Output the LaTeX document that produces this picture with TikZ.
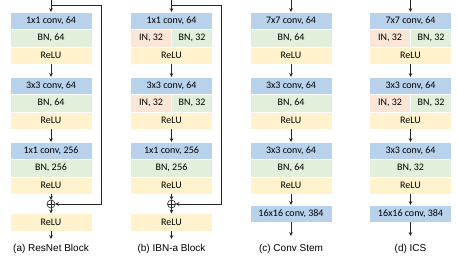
\documentclass[tikz,border=0pt]{standalone}
\usepackage{fontspec}
\setmainfont{Liberation Sans}
\newfontfamily\carlito{Carlito}
\usetikzlibrary{arrows.meta}
\definecolor{convblue}{HTML}{B8D2EC}
\definecolor{bngreen}{HTML}{E2EFDA}
\definecolor{reluyellow}{HTML}{FFF2CC}
\definecolor{inpink}{HTML}{FBE5D6}
\definecolor{linegray}{HTML}{262626}
\tikzset{
  cell/.style={draw=white, line width=0.3pt, outer sep=0pt, minimum height=17.33pt, inner sep=0pt,
    font=\carlito\fontsize{10}{12}\selectfont, anchor=north},
  conv/.style={cell, fill=convblue, minimum width=82pt},
  bn/.style={cell, fill=bngreen, minimum width=82pt},
  relu/.style={cell, fill=reluyellow, minimum width=82pt},
  inhalf/.style={cell, fill=inpink, minimum width=41pt},
  bnhalf/.style={cell, fill=bngreen, minimum width=41pt},
  arr/.style={-{Stealth[length=3.8pt,width=3.6pt]}, line width=0.9pt, draw=linegray},
  plus/.style={circle, draw=linegray, line width=0.6pt, fill=white, minimum size=8pt, inner sep=0pt, outer sep=0pt,
    path picture={\draw[linegray, line width=0.6pt] (path picture bounding box.north) -- (path picture bounding box.south)
      (path picture bounding box.west) -- (path picture bounding box.east);}},
  caption/.style={font=\fontsize{10}{12}\selectfont, inner sep=0pt},
}
\begin{document}
\begin{tikzpicture}[x=1pt,y=-1pt]
\useasboundingbox (0,0) rectangle (457,260);

% ---------- (a) ResNet Block ----------
\node[conv] (a1c) at (51,12) {1x1 conv, 64};
\node[bn]   (a1b) at (a1c.south) {BN, 64};
\node[relu] (a1r) at (a1b.south) {ReLU};
\node[conv] (a2c) at (51,77) {3x3 conv, 64};
\node[bn]   (a2b) at (a2c.south) {BN, 64};
\node[relu] (a2r) at (a2b.south) {ReLU};
\node[conv] (a3c) at (51,142) {1x1 conv, 256};
\node[bn]   (a3b) at (a3c.south) {BN, 256};
\node[relu] (a3r) at (a3b.south) {ReLU};
\node[plus] (aplus) at (51,204) {};
\node[relu] (a4r) at (51,213.5) {ReLU};
\node[caption] (acap) at (51,249) {(a) ResNet Block};
\coordinate (ain) at (51,0);
\coordinate (askip) at (51,5);
\coordinate (acorner) at (101,5);
\coordinate (aout) at (51,239);
\draw[arr] (ain) -- (a1c.north);
\draw[arr] (a1r.south) -- (a2c.north);
\draw[arr] (a2r.south) -- (a3c.north);
\draw[arr] (a3r.south) -- (aplus.north);
\draw[arr] (aplus.south) -- (a4r.north);
\draw[arr] (a4r.south) -- (aout);
\draw[arr] (askip) -- (acorner) |- (aplus.east);

% ---------- (b) IBN-a Block ----------
\node[conv]   (b1c) at (171.5,12) {1x1 conv, 64};
\node[inhalf, anchor=north east] (b1i) at (b1c.south) {IN, 32};
\node[bnhalf, anchor=north west] (b1n) at (b1c.south) {BN, 32};
\node[relu]   (b1r) at (b1i.south east) {ReLU};
\node[conv]   (b2c) at (171.5,77) {3x3 conv, 64};
\node[inhalf, anchor=north east] (b2i) at (b2c.south) {IN, 32};
\node[bnhalf, anchor=north west] (b2n) at (b2c.south) {BN, 32};
\node[relu]   (b2r) at (b2i.south east) {ReLU};
\node[conv]   (b3c) at (171.5,142) {1x1 conv, 256};
\node[bn]     (b3b) at (b3c.south) {BN, 256};
\node[relu]   (b3r) at (b3b.south) {ReLU};
\node[plus]   (bplus) at (171.5,204) {};
\node[relu]   (b4r) at (171.5,213.5) {ReLU};
\node[caption] (bcap) at (171.5,249) {(b) IBN-a Block};
\coordinate (bin) at (171.5,0);
\coordinate (bskip) at (171.5,5);
\coordinate (bcorner) at (221.5,5);
\coordinate (bout) at (171.5,239);
\draw[arr] (bin) -- (b1c.north);
\draw[arr] (b1r.south) -- (b2c.north);
\draw[arr] (b2r.south) -- (b3c.north);
\draw[arr] (b3r.south) -- (bplus.north);
\draw[arr] (bplus.south) -- (b4r.north);
\draw[arr] (b4r.south) -- (bout);
\draw[arr] (bskip) -- (bcorner) |- (bplus.east);

% ---------- (c) Conv Stem ----------
\node[conv] (c1c) at (291,12) {7x7 conv, 64};
\node[bn]   (c1b) at (c1c.south) {BN, 64};
\node[relu] (c1r) at (c1b.south) {ReLU};
\node[conv] (c2c) at (291,77) {3x3 conv, 64};
\node[bn]   (c2b) at (c2c.south) {BN, 64};
\node[relu] (c2r) at (c2b.south) {ReLU};
\node[conv] (c3c) at (291,142) {3x3 conv, 64};
\node[bn]   (c3b) at (c3c.south) {BN, 64};
\node[relu] (c3r) at (c3b.south) {ReLU};
\node[conv] (c4c) at (291,205) {16x16 conv, 384};
\node[caption] (ccap) at (291,249) {(c) Conv Stem};
\coordinate (cin) at (291,0);
\coordinate (cout) at (291,236);
\draw[arr] (cin) -- (c1c.north);
\draw[arr] (c1r.south) -- (c2c.north);
\draw[arr] (c2r.south) -- (c3c.north);
\draw[arr] (c3r.south) -- (c4c.north);
\draw[arr] (c4c.south) -- (cout);

% ---------- (d) ICS ----------
\node[conv]   (d1c) at (410.5,12) {7x7 conv, 64};
\node[inhalf, anchor=north east] (d1i) at (d1c.south) {IN, 32};
\node[bnhalf, anchor=north west] (d1n) at (d1c.south) {BN, 32};
\node[relu]   (d1r) at (d1i.south east) {ReLU};
\node[conv]   (d2c) at (410.5,77) {3x3 conv, 64};
\node[inhalf, anchor=north east] (d2i) at (d2c.south) {IN, 32};
\node[bnhalf, anchor=north west] (d2n) at (d2c.south) {BN, 32};
\node[relu]   (d2r) at (d2i.south east) {ReLU};
\node[conv]   (d3c) at (410.5,142) {3x3 conv, 64};
\node[bn]     (d3b) at (d3c.south) {BN, 32};
\node[relu]   (d3r) at (d3b.south) {ReLU};
\node[conv]   (d4c) at (410.5,205) {16x16 conv, 384};
\node[caption] (dcap) at (410.5,249) {(d) ICS};
\coordinate (din) at (410.5,0);
\coordinate (dout) at (410.5,236);
\draw[arr] (din) -- (d1c.north);
\draw[arr] (d1r.south) -- (d2c.north);
\draw[arr] (d2r.south) -- (d3c.north);
\draw[arr] (d3r.south) -- (d4c.north);
\draw[arr] (d4c.south) -- (dout);
\end{tikzpicture}
\end{document}
